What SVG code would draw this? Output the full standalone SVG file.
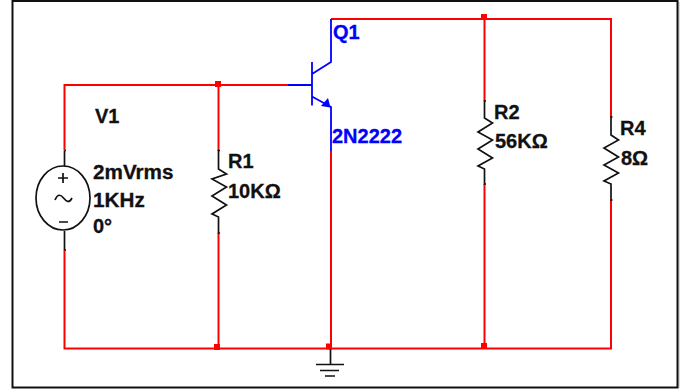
<svg xmlns="http://www.w3.org/2000/svg" width="687" height="389" viewBox="0 0 687 389">
<style>
.w{fill:none;stroke:#f00;stroke-width:2}
.k{fill:none;stroke:#111;stroke-width:1.700}
.b{fill:none;stroke:#00f;stroke-width:1.800}
.j{fill:#f00}
text{font-family:"Liberation Sans",Arial,sans-serif;font-size:20px;font-weight:bold;fill:#111;stroke:#111;stroke-width:.3px}
text.bt{fill:#00f;stroke:#00f}
.v{font-size:20.700px}
</style>
<rect width="687" height="389" fill="#fff"/>
<rect x="678" y="2" width="2" height="386" fill="#ddd"/>
<rect id="frame" x="12.500" y="1" width="665" height="386.500" fill="none" stroke="#111" stroke-width="2"/>
<g id="connectors">
<path class="w" d="M64.500 150V85H288"/>
<path class="w" d="M64.500 250V348.500H611V200"/>
<path class="w" d="M218.500 85V151M218.500 233V348.500"/>
<path class="w" d="M331 19H611V117"/>
<path class="w" d="M484.500 19V101M484.500 184V348.500"/>
<path class="w" d="M331 151V348.500"/>
<rect class="j" x="215" y="81" width="6" height="6"/><rect class="j" x="214" y="344" width="6" height="6"/>
<rect class="j" x="481" y="14" width="6" height="6"/><rect class="j" x="481" y="343" width="6" height="6"/>
<rect class="j" x="326" y="343.500" width="6" height="6"/>
</g>
<g id="V1">
<path class="k" d="M64.500 150.500H66M64.500 150.500V166M64.500 231V250M64.500 250H66"/>
<ellipse class="k" cx="63" cy="198" rx="27" ry="32"/>
<path class="k" d="M58 178H68M63 173V183M59 222H68"/>
<path class="k" d="M55 200C58 193 61 195 63.500 198S69 204 72 198"/>
<text x="95" y="122.500">V1</text><text class="v" x="93" y="178.500">2mVrms</text><text class="v" x="93" y="206.500">1KHz</text><text x="93" y="233">0°</text>
</g>
<g id="R1">
<path class="k" d="M220 150.500H218.500V169L226.500 174 212 179 226.500 187 212 196 226.500 205 212 214 218.500 217V233H220"/>
<text x="228" y="167.500">R1</text><text x="228" y="197.500">10KΩ</text>
</g>
<g id="Q1">
<path class="b" d="M288 85H312M312 62V105.500M312 74L331 62V19M312 96.500L331 107V151"/>
<path fill="#00f" d="M330.500 107.500L321 106 328 98Z"/>
<text class="bt" x="333" y="39">Q1</text><text class="bt" x="332" y="142.500">2N2222</text>
</g>
<g id="R2">
<path class="k" d="M486 101H484.500V118L492.500 123 478 132 492.500 140 478 149 492.500 158 478 166 484.500 169V184H486"/>
<text x="494" y="119">R2</text><text x="495" y="147.500">56KΩ</text>
</g>
<g id="R4">
<path class="k" d="M612.500 117H611V135L618.500 140 604 148 618.500 157 604 165 618.500 173 604 181 611 184V200H612.500"/>
<text x="620" y="134.500">R4</text><text x="621" y="165">8Ω</text>
</g>
<g id="GND">
<path class="k" d="M330.500 349V364" stroke-width="2"/>
<path class="k" d="M316 364.500H344M320 370.500H339M325 376H335" stroke-width="2"/>
</g>
</svg>
